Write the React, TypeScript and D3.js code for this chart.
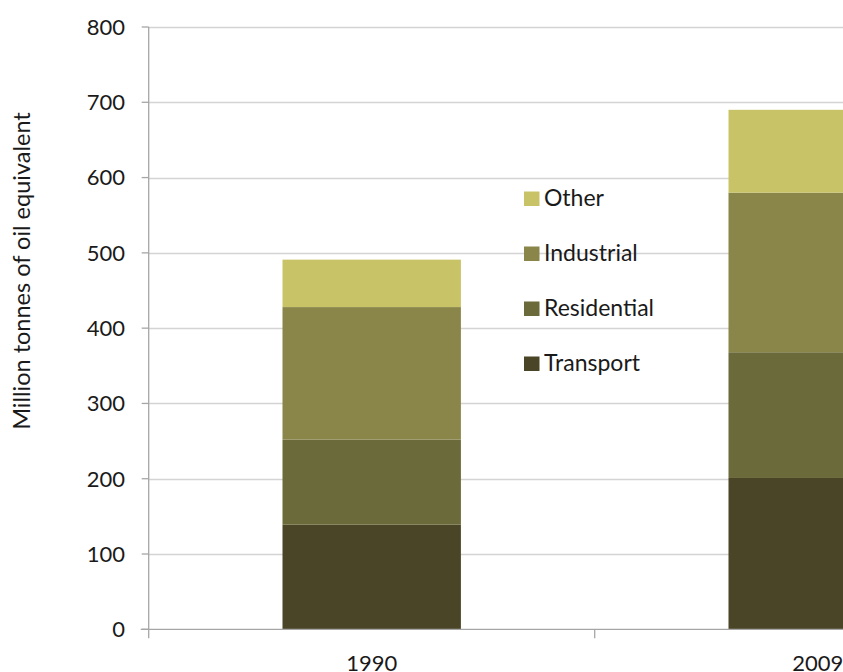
import React, { useEffect, useRef } from "react";
import * as d3 from "d3";

const years = ["1990", "2009"];
const seriesNames = ["Transport", "Residential", "Industrial", "Other"];
const transport = [139, 201];
const residential = [113, 167];
const industrial = [176, 212];
const other = [63, 110];
const yTicks = [0, 100, 200, 300, 400, 500, 600, 700, 800];
const colors = ["#4A4526", "#6B6A3A", "#8A864A", "#C9C368"];
const yTitle = "Million tonnes of oil equivalent";

export default function App() {
  const ref = useRef<SVGSVGElement>(null);
  useEffect(() => {
    const svg = d3.select(ref.current);
    svg.selectAll("*").remove();
    const font = "Lato, 'Open Sans', sans-serif";
    const x0 = 148.7;
    const y = d3.scaleLinear().domain([0, 800]).range([629.3, 27]);
    const x = d3
      .scaleBand<string>()
      .domain(years)
      .range([x0, x0 + 892])
      .paddingInner(0.6)
      .paddingOuter(0.3);

    // gridlines
    svg
      .append("g")
      .selectAll("line")
      .data(yTicks.filter((t) => t > 0))
      .join("line")
      .attr("x1", x0)
      .attr("x2", 843)
      .attr("y1", (d) => Math.round(y(d)) + 0.5)
      .attr("y2", (d) => Math.round(y(d)) + 0.5)
      .attr("stroke", "#D4D4D4")
      .attr("stroke-width", 1.3);

    // stacked bars
    const rows = years.map((yr, i) => ({
      year: yr,
      Transport: transport[i],
      Residential: residential[i],
      Industrial: industrial[i],
      Other: other[i],
    }));
    const stack = d3.stack<any>().keys(seriesNames)(rows);
    stack.forEach((layer, li) => {
      svg
        .append("g")
        .selectAll("rect")
        .data(layer)
        .join("rect")
        .attr("x", (d: any) => x(d.data.year)!)
        .attr("width", x.bandwidth())
        .attr("y", (d) => y(d[1]))
        .attr("height", (d) => y(d[0]) - y(d[1]))
        .attr("fill", colors[li]);
    });

    // y axis line
    svg
      .append("line")
      .attr("x1", x0)
      .attr("x2", x0)
      .attr("y1", y(800))
      .attr("y2", y(0) + 9)
      .attr("stroke", "#A6A6A6")
      .attr("stroke-width", 1.3);
    // x axis line
    svg
      .append("line")
      .attr("x1", x0 - 8)
      .attr("x2", 843)
      .attr("y1", y(0))
      .attr("y2", y(0))
      .attr("stroke", "#A6A6A6")
      .attr("stroke-width", 1.3);
    // y ticks
    svg
      .append("g")
      .selectAll("line")
      .data(yTicks)
      .join("line")
      .attr("x1", x0 - 7)
      .attr("x2", x0)
      .attr("y1", (d) => y(d))
      .attr("y2", (d) => y(d))
      .attr("stroke", "#A6A6A6")
      .attr("stroke-width", 1.3);
    svg
      .append("g")
      .selectAll("text")
      .data(yTicks)
      .join("text")
      .attr("x", 125)
      .attr("y", (d) => y(d))
      .attr("dy", "0.36em")
      .attr("text-anchor", "end")
      .attr("font-family", font)
      .attr("font-size", 22)
      .attr("fill", "#1a1a1a")
      .text((d) => String(d));

    // x category ticks (band boundaries)
    const step = x.step();
    const bounds = [x0 + step, x0 + 2 * step];
    svg
      .append("g")
      .selectAll("line")
      .data(bounds)
      .join("line")
      .attr("x1", (d) => d)
      .attr("x2", (d) => d)
      .attr("y1", y(0))
      .attr("y2", y(0) + 9)
      .attr("stroke", "#A6A6A6")
      .attr("stroke-width", 1.3);
    svg
      .append("g")
      .selectAll("text")
      .data(years)
      .join("text")
      .attr("x", (d) => x(d)! + x.bandwidth() / 2)
      .attr("y", 671)
      .attr("text-anchor", "middle")
      .attr("font-family", font)
      .attr("font-size", 22)
      .attr("fill", "#1a1a1a")
      .text((d) => d);

    // y title
    svg
      .append("text")
      .attr("transform", `translate(30,271) rotate(-90)`)
      .attr("text-anchor", "middle")
      .attr("font-family", font)
      .attr("font-size", 23.5)
      .attr("fill", "#1a1a1a")
      .text(yTitle);

    // legend
    const legendOrder = ["Other", "Industrial", "Residential", "Transport"];
    const lg = svg.append("g");
    legendOrder.forEach((name, i) => {
      const yy = 206 + i * 55;
      lg.append("rect")
        .attr("x", 524)
        .attr("y", yy - 14.5)
        .attr("width", 15.5)
        .attr("height", 14.5)
        .attr("fill", colors[seriesNames.indexOf(name)]);
      lg.append("text")
        .attr("x", 544)
        .attr("y", yy)
        .attr("font-family", font)
        .attr("font-size", 23)
        .attr("fill", "#1a1a1a")
        .text(name);
    });
  }, []);

  return (
    <svg
      ref={ref}
      width={843}
      height={672}
      style={{ position: "absolute", left: 0, top: 0, background: "#fff" }}
    />
  );
}
